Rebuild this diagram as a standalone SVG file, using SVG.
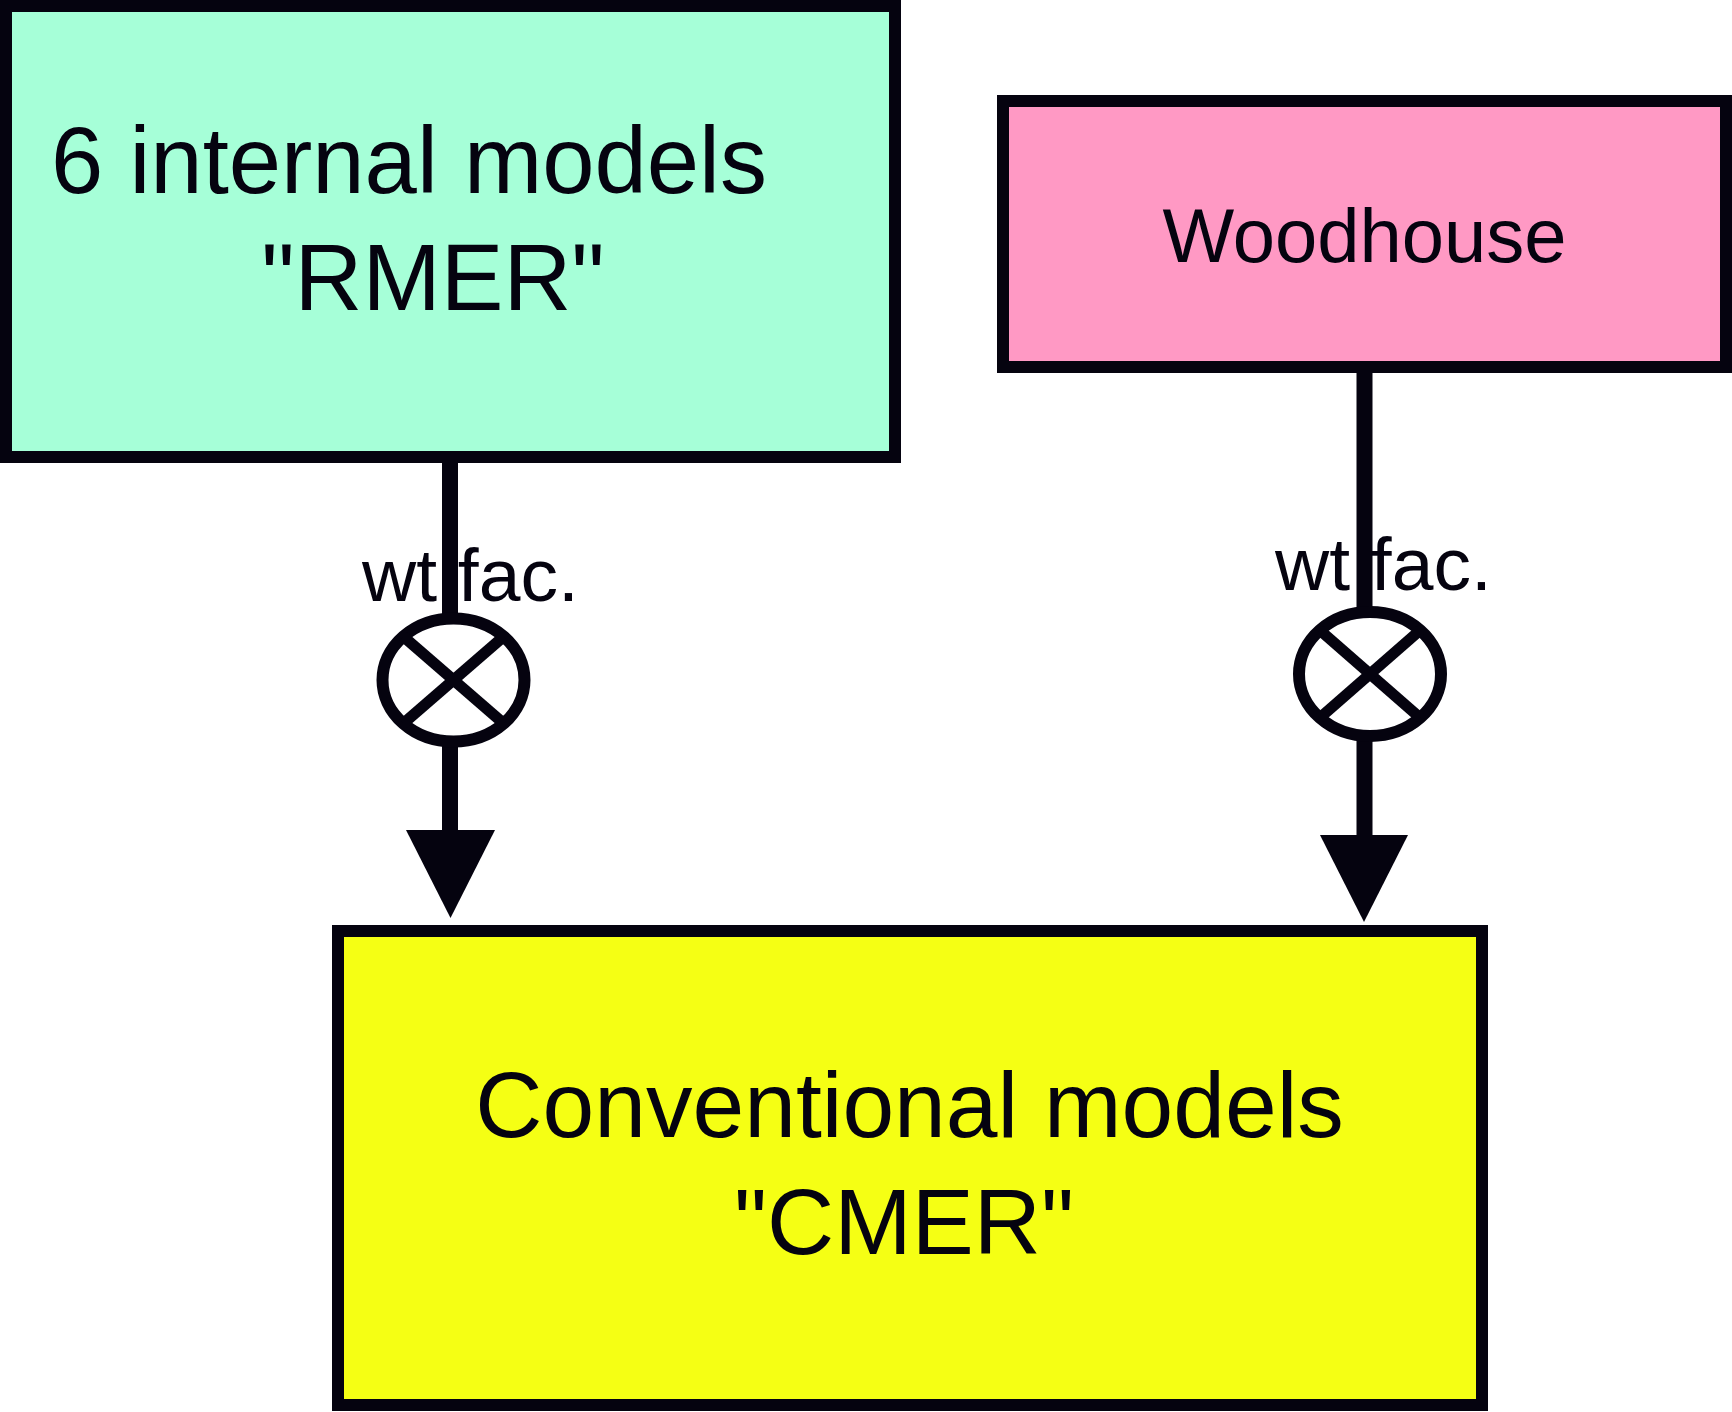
<svg xmlns="http://www.w3.org/2000/svg" width="1732" height="1412" viewBox="0 0 1732 1412">
<style>
.box{stroke:#05030f;stroke-width:12}
.lbl{font-family:"Liberation Sans",Arial,sans-serif;fill:#05030f}
.wire{stroke:#05030f;stroke-width:16;fill:none}
.mul{stroke:#05030f;stroke-width:12;fill:#ffffff}
.x{stroke:#05030f;stroke-width:11}
.head{fill:#05030f}
</style>
<rect width="1732" height="1412" fill="#ffffff"/>
<g id="connectors">
  <text class="lbl" x="362" y="601" font-size="75">wt fac.</text>
  <line class="wire" x1="450" y1="462" x2="450" y2="618"/>
  <line class="wire" x1="450" y1="742" x2="450" y2="832"/>
  <polygon class="head" points="406,830 495,830 450.5,918"/>
  <g id="mult1">
    <ellipse class="mul" cx="453.5" cy="680" rx="71" ry="61.5"/>
    <line class="x" x1="403.3" y1="636.5" x2="503.7" y2="723.5"/>
    <line class="x" x1="503.7" y1="636.5" x2="403.3" y2="723.5"/>
  </g>
  <text class="lbl" x="1275" y="590" font-size="75">wt fac.</text>
  <line class="wire" x1="1364.5" y1="372" x2="1364.5" y2="615"/>
  <line class="wire" x1="1364.5" y1="735" x2="1364.5" y2="837"/>
  <polygon class="head" points="1320,835 1408,835 1364,922"/>
  <g id="mult2">
    <ellipse class="mul" cx="1370" cy="674" rx="71" ry="62"/>
    <line class="x" x1="1319.8" y1="630.2" x2="1420.2" y2="717.8"/>
    <line class="x" x1="1420.2" y1="630.2" x2="1319.8" y2="717.8"/>
  </g>
</g>
<g id="rmer">
  <rect class="box" x="6" y="6" width="889" height="451" fill="#a6ffd8"/>
  <text class="lbl" x="409" y="193" font-size="94" text-anchor="middle">6 internal models</text>
  <text class="lbl" x="433" y="310" font-size="94" text-anchor="middle">"RMER"</text>
</g>
<g id="woodhouse">
  <rect class="box" x="1003" y="101" width="723" height="266" fill="#ff99c4"/>
  <text class="lbl" x="1364.5" y="262" font-size="76" text-anchor="middle">Woodhouse</text>
</g>
<g id="cmer">
  <rect class="box" x="338" y="931" width="1144" height="474" fill="#f5ff14"/>
  <text class="lbl" x="909.6" y="1137" font-size="93" text-anchor="middle">Conventional models</text>
  <text class="lbl" x="904" y="1254" font-size="93" text-anchor="middle">"CMER"</text>
</g>
</svg>
